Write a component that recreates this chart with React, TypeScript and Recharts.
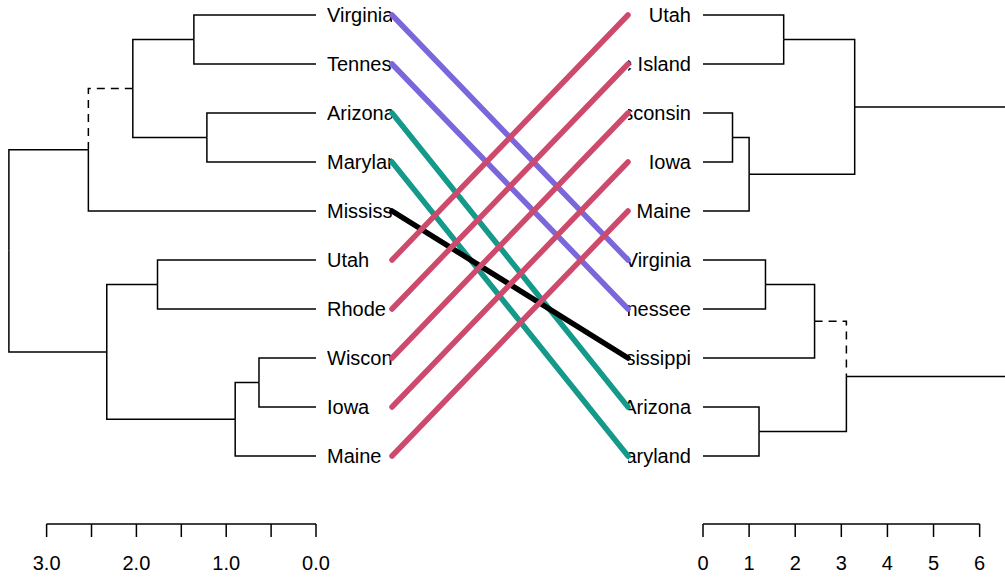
import React from "react";
import {
  LineChart,
  Line,
  XAxis,
  YAxis,
  ReferenceLine,
} from "recharts";

// leaves, top to bottom
const leftLabels = [
  "Virginia",
  "Tennessee",
  "Arizona",
  "Maryland",
  "Mississippi",
  "Utah",
  "Rhode Island",
  "Wisconsin",
  "Iowa",
  "Maine",
];
const rightLabels = [
  "Utah",
  "Rhode Island",
  "Wisconsin",
  "Iowa",
  "Maine",
  "Virginia",
  "Tennessee",
  "Mississippi",
  "Arizona",
  "Maryland",
];

// merges like R's hclust: negative = leaf position, positive = earlier merge
const leftMerge = [
  [-1, -2],
  [-3, -4],
  [1, 2],
  [3, -5],
  [-6, -7],
  [-8, -9],
  [6, -10],
  [5, 7],
  [4, 8],
];
const leftHeights = [1.36, 1.215, 2.04, 2.535, 1.765, 0.635, 0.9, 2.33, 3.42];
const leftDistinct = [3];

const rightMerge = [
  [-1, -2],
  [-3, -4],
  [2, -5],
  [1, 3],
  [-6, -7],
  [5, -8],
  [-9, -10],
  [6, 7],
  [4, 8],
];
const rightHeights = [1.75, 0.64, 1.0, 3.29, 1.355, 2.42, 1.215, 3.11, 7.2];
const rightDistinct = [6];

// connector colour for each left leaf
const connectorColors = [
  "#7B66DC",
  "#7B66DC",
  "#14998A",
  "#14998A",
  "#000000",
  "#CD4A6D",
  "#CD4A6D",
  "#CD4A6D",
  "#CD4A6D",
  "#CD4A6D",
];

const leftTicks = [0, 0.5, 1, 1.5, 2, 2.5, 3];
const rightTicks = [0, 1, 2, 3, 4, 5, 6];
const leafTicks = [1, 2, 3, 4, 5, 6, 7, 8, 9, 10];

// layout
const FONT = '"Liberation Sans", Arial, Helvetica, sans-serif';
const H = 578;
const LEAF_TOP = 15;
const LEAF_STEP = 49;
const PLOT_H = 524;
const Y0 = 1 - LEAF_TOP / LEAF_STEP;
const yDomain: [number, number] = [Y0, Y0 + PLOT_H / LEAF_STEP];

type Pt = { x: number; y: number };
type Edge = { pts: Pt[]; dashed: boolean };

const buildEdges = (
  merge: number[][],
  heights: number[],
  distinct: number[]
): Edge[] => {
  const pos: number[] = [];
  const node = (c: number) =>
    c < 0 ? { h: 0, p: -c } : { h: heights[c - 1], p: pos[c - 1] };
  const edges: Edge[] = [];
  merge.forEach(([a, b], i) => {
    const na = node(a);
    const nb = node(b);
    pos[i] = (na.p + nb.p) / 2;
    const h = heights[i];
    [a, b].forEach((c) => {
      const n = node(c);
      edges.push({
        pts: [
          { x: n.h, y: n.p },
          { x: h, y: n.p },
          { x: h, y: pos[i] },
        ],
        dashed: c > 0 && distinct.includes(c),
      });
    });
  });
  return edges;
};

const leftEdges = buildEdges(leftMerge, leftHeights, leftDistinct);
const rightEdges = buildEdges(rightMerge, rightHeights, rightDistinct);

const connectors = leftLabels.map((name, i) => ({
  color: connectorColors[i],
  pts: [
    { x: 0, y: i + 1 },
    { x: 1, y: rightLabels.indexOf(name) + 1 },
  ],
}));

// left chart starts at page x 0, labels are cut where the connectors begin (392)
const LeftLeafTick = (props: any) => {
  const { x, y, payload } = props;
  return (
    <svg x={x} y={y - 16} width={392 - x} height={32} overflow="hidden">
      <text x={0} y={16} dy="0.36em" fontSize={20} fill="#000">
        {leftLabels[payload.value - 1]}
      </text>
    </svg>
  );
};

// right chart starts at page x 628, labels are cut at its left edge
const RightLeafTick = (props: any) => {
  const { x, y, payload } = props;
  return (
    <svg x={0} y={y - 16} width={x + 10} height={32} overflow="hidden">
      <text x={x} y={16} dy="0.36em" fontSize={20} fill="#000" textAnchor="end">
        {rightLabels[payload.value - 1]}
      </text>
    </svg>
  );
};

const edgeLines = (edges: Edge[], prefix: string) =>
  edges.map((e, i) => (
    <Line
      key={`${prefix}-${i}`}
      data={e.pts}
      dataKey="y"
      type="linear"
      stroke="#000"
      strokeWidth={1.5}
      strokeDasharray={e.dashed ? "8 6" : undefined}
      dot={false}
      activeDot={false}
      isAnimationActive={false}
    />
  ));

const App: React.FC = () => {
  return (
    <div
      style={{
        position: "absolute",
        left: 0,
        top: 0,
        width: 1005,
        height: H,
        background: "#fff",
        fontFamily: FONT,
      }}
    >
      {/* left dendrogram */}
      <div style={{ position: "absolute", left: 0, top: 0 }}>
        <LineChart
          width={392}
          height={H}
          margin={{ top: 0, right: 0, bottom: 0, left: 8 }}
        >
          <XAxis
            type="number"
            dataKey="x"
            domain={[0, 3.43]}
            reversed
            allowDataOverflow
            ticks={leftTicks}
            interval={0}
            tickFormatter={(v: number) =>
              Number.isInteger(v) ? v.toFixed(1) : ""
            }
            axisLine={false}
            tickLine={{ stroke: "#000", strokeWidth: 1.5 }}
            tickSize={13}
            tickMargin={19}
            tick={{ fill: "#000", fontSize: 20 }}
            height={54}
          />
          <YAxis
            type="number"
            domain={yDomain}
            reversed
            allowDataOverflow
            orientation="right"
            width={76}
            ticks={leafTicks}
            interval={0}
            axisLine={false}
            tickLine={false}
            tickSize={0}
            tickMargin={11}
            tick={LeftLeafTick}
          />
          <ReferenceLine
            segment={[
              { x: 0, y: yDomain[1] },
              { x: 3, y: yDomain[1] },
            ]}
            stroke="#000"
            strokeWidth={1.5}
            ifOverflow="visible"
          />
          {edgeLines(leftEdges, "l")}
        </LineChart>
      </div>

      {/* right dendrogram */}
      <div style={{ position: "absolute", left: 628, top: 0 }}>
        <LineChart
          width={377}
          height={H}
          margin={{ top: 0, right: 0, bottom: 0, left: 0 }}
        >
          <XAxis
            type="number"
            dataKey="x"
            domain={[0, 6.55]}
            allowDataOverflow
            ticks={rightTicks}
            interval={0}
            axisLine={false}
            tickLine={{ stroke: "#000", strokeWidth: 1.5 }}
            tickSize={13}
            tickMargin={19}
            tick={{ fill: "#000", fontSize: 20 }}
            height={54}
          />
          <YAxis
            type="number"
            domain={yDomain}
            reversed
            allowDataOverflow
            orientation="left"
            width={75}
            ticks={leafTicks}
            interval={0}
            axisLine={false}
            tickLine={false}
            tickSize={0}
            tickMargin={12}
            tick={RightLeafTick}
          />
          <ReferenceLine
            segment={[
              { x: 0, y: yDomain[1] },
              { x: 6, y: yDomain[1] },
            ]}
            stroke="#000"
            strokeWidth={1.5}
            ifOverflow="visible"
          />
          {edgeLines(rightEdges, "r")}
        </LineChart>
      </div>

      {/* connectors */}
      <div style={{ position: "absolute", left: 380, top: 0 }}>
        <LineChart
          width={260}
          height={H}
          margin={{ top: 0, right: 12, bottom: H - PLOT_H, left: 12 }}
        >
          <XAxis type="number" dataKey="x" domain={[0, 1]} hide />
          <YAxis type="number" domain={yDomain} reversed hide />
          {connectors.map((c, i) => (
            <Line
              key={`c-${i}`}
              data={c.pts}
              dataKey="y"
              type="linear"
              stroke={c.color}
              strokeWidth={5.5}
              strokeLinecap="round"
              dot={false}
              activeDot={false}
              isAnimationActive={false}
            />
          ))}
        </LineChart>
      </div>
    </div>
  );
};

export default App;
